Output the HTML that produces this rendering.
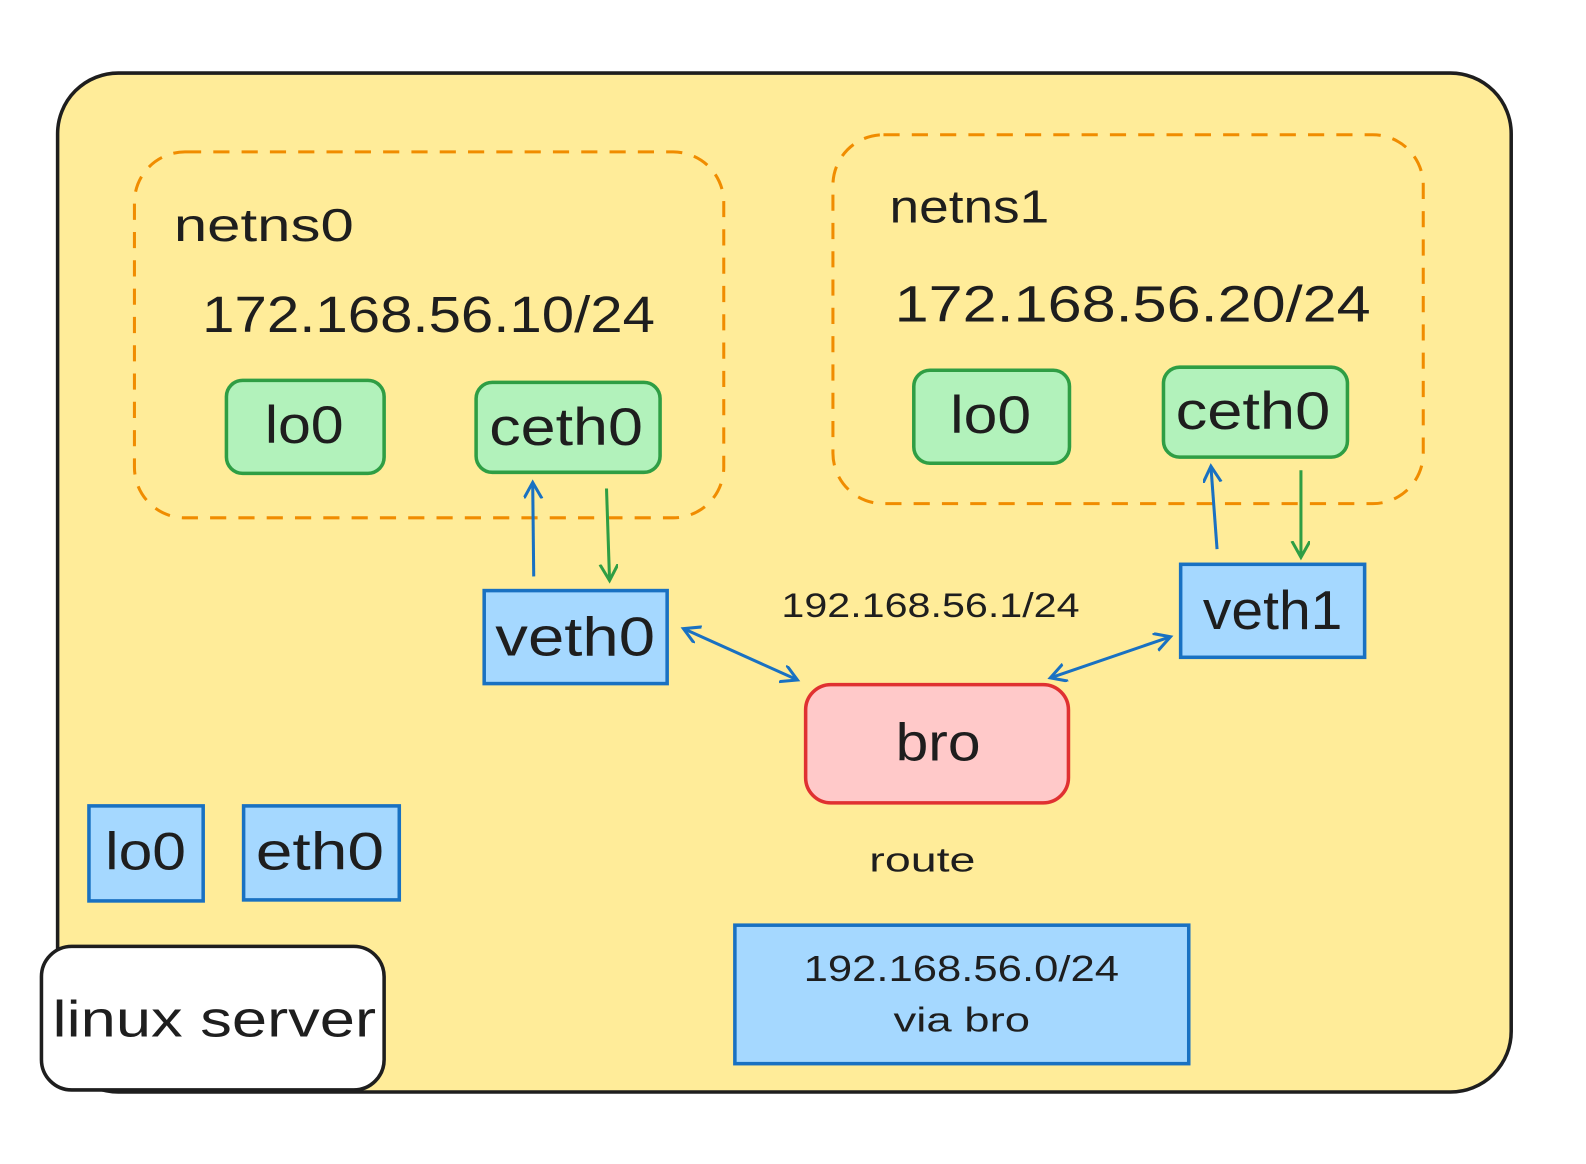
<!DOCTYPE html>
<html><head><meta charset="utf-8"><style>
html,body{margin:0;padding:0;background:#fff;}
svg{display:block;}
text{font-family:"Liberation Sans",sans-serif;fill:#1e1e1e;}
</style></head><body>
<svg width="1586" height="1164" viewBox="0 0 1569 1151">
<defs>
<marker id="ab" markerWidth="20" markerHeight="20" refX="15" refY="9" orient="auto-start-reverse" markerUnits="userSpaceOnUse"><path d="M0,0 L16,9 L0,18" fill="none" stroke="#1971c2" stroke-width="3"/></marker>
<marker id="ag" markerWidth="20" markerHeight="20" refX="15" refY="9" orient="auto" markerUnits="userSpaceOnUse"><path d="M0,0 L16,9 L0,18" fill="none" stroke="#2f9e44" stroke-width="3"/></marker>
</defs>
<rect x="57" y="72" width="1438" height="1008" rx="60" fill="#ffec99" stroke="#1e1e1e" stroke-width="3.5"/>

<rect x="133" y="150" width="583" height="362" rx="50" fill="none" stroke="#f08c00" stroke-width="3" stroke-dasharray="16 12"/>
<text x="172" y="238" font-size="46" textLength="178" lengthAdjust="spacingAndGlyphs">netns0</text>
<text x="200" y="328" font-size="50" textLength="448" lengthAdjust="spacingAndGlyphs">172.168.56.10/24</text>
<rect x="224" y="376" width="156" height="92" rx="16" fill="#b2f2bb" stroke="#2f9e44" stroke-width="3.5"/>
<text x="262" y="438" font-size="52" textLength="78" lengthAdjust="spacingAndGlyphs">lo0</text>
<rect x="471" y="378" width="182" height="89" rx="16" fill="#b2f2bb" stroke="#2f9e44" stroke-width="3.5"/>
<text x="484" y="440" font-size="52" textLength="152" lengthAdjust="spacingAndGlyphs">ceth0</text>

<rect x="824" y="133" width="584" height="365" rx="50" fill="none" stroke="#f08c00" stroke-width="3" stroke-dasharray="16 12"/>
<text x="880" y="220" font-size="46" textLength="158" lengthAdjust="spacingAndGlyphs">netns1</text>
<text x="885" y="318" font-size="50" textLength="471" lengthAdjust="spacingAndGlyphs">172.168.56.20/24</text>
<rect x="904" y="366" width="154" height="92" rx="16" fill="#b2f2bb" stroke="#2f9e44" stroke-width="3.5"/>
<text x="940" y="428" font-size="52" textLength="80" lengthAdjust="spacingAndGlyphs">lo0</text>
<rect x="1151" y="363" width="182" height="89" rx="16" fill="#b2f2bb" stroke="#2f9e44" stroke-width="3.5"/>
<text x="1163" y="424" font-size="52" textLength="153" lengthAdjust="spacingAndGlyphs">ceth0</text>

<rect x="479" y="584" width="181" height="92" fill="#a5d8ff" stroke="#1971c2" stroke-width="3.5"/>
<text x="490" y="648" font-size="54" textLength="158" lengthAdjust="spacingAndGlyphs">veth0</text>
<rect x="1168" y="558" width="182" height="92" fill="#a5d8ff" stroke="#1971c2" stroke-width="3.5"/>
<text x="1190" y="622" font-size="54" textLength="138" lengthAdjust="spacingAndGlyphs">veth1</text>

<text x="773" y="610" font-size="34" textLength="295" lengthAdjust="spacingAndGlyphs">192.168.56.1/24</text>
<rect x="797" y="677" width="260" height="117" rx="25" fill="#ffc9c9" stroke="#e03131" stroke-width="3.5"/>
<text x="886" y="752" font-size="52" textLength="84" lengthAdjust="spacingAndGlyphs">bro</text>

<line x1="528" y1="570" x2="527" y2="478" stroke="#1971c2" stroke-width="3" marker-end="url(#ab)"/>
<line x1="600" y1="483" x2="603" y2="573" stroke="#2f9e44" stroke-width="3" marker-end="url(#ag)"/>
<line x1="677" y1="622" x2="788" y2="672" stroke="#1971c2" stroke-width="3" marker-start="url(#ab)" marker-end="url(#ab)"/>
<line x1="1204" y1="543" x2="1198" y2="462" stroke="#1971c2" stroke-width="3" marker-end="url(#ab)"/>
<line x1="1287" y1="465" x2="1287" y2="550" stroke="#2f9e44" stroke-width="3" marker-end="url(#ag)"/>
<line x1="1040" y1="670" x2="1157" y2="630" stroke="#1971c2" stroke-width="3" marker-start="url(#ab)" marker-end="url(#ab)"/>

<rect x="88" y="797" width="113" height="94" fill="#a5d8ff" stroke="#1971c2" stroke-width="3.5"/>
<text x="104" y="860" font-size="52" textLength="80" lengthAdjust="spacingAndGlyphs">lo0</text>
<rect x="241" y="797" width="154" height="93" fill="#a5d8ff" stroke="#1971c2" stroke-width="3.5"/>
<text x="253" y="860" font-size="52" textLength="127" lengthAdjust="spacingAndGlyphs">eth0</text>

<text x="860" y="862" font-size="34" textLength="105" lengthAdjust="spacingAndGlyphs">route</text>
<rect x="727" y="915" width="449" height="137" fill="#a5d8ff" stroke="#1971c2" stroke-width="3.5"/>
<text x="795" y="970" font-size="36" textLength="312" lengthAdjust="spacingAndGlyphs">192.168.56.0/24</text>
<text x="884" y="1020" font-size="34" textLength="135" lengthAdjust="spacingAndGlyphs">via bro</text>

<rect x="41" y="936" width="339" height="142" rx="30" fill="#ffffff" stroke="#1e1e1e" stroke-width="3.5"/>
<text x="52" y="1025" font-size="50" textLength="320" lengthAdjust="spacingAndGlyphs">linux server</text>
</svg>
</body></html>
